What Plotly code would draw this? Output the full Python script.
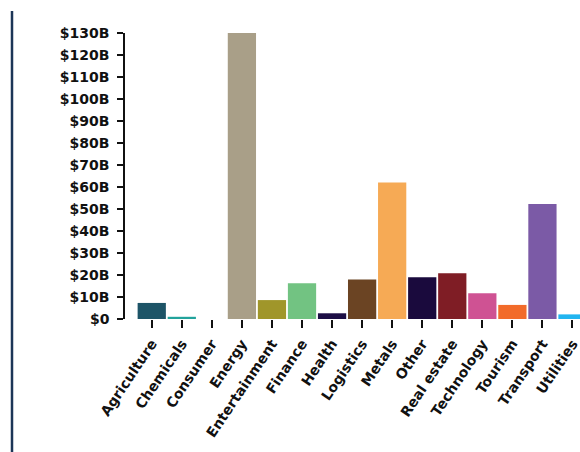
import plotly.graph_objects as go

categories = ["Agriculture", "Chemicals", "Consumer", "Energy", "Entertainment", "Finance",
              "Health", "Logistics", "Metals", "Other", "Real estate", "Technology",
              "Tourism", "Transport", "Utilities"]
values_b = [7.3, 1.0, 0.0, 131.0, 8.6, 16.2, 2.6, 18.0, 62.0, 19.0, 20.8, 11.7, 6.4, 52.3, 2.1]
colors = ["#1d5467", "#22a39c", "#888888", "#a99f88", "#a0962a", "#72c382", "#1c0e45",
          "#6b4423", "#f6aa55", "#1a0a3d", "#7f1d25", "#cf5293", "#f26b2a", "#7b5aa6", "#22b5f0"]
tick_vals = list(range(0, 131, 10))
tick_text = ["$0"] + [f"${v}B" for v in tick_vals[1:]]

W, H = 580, 452
ml, mt, mb = 125, 33, 133
mr = 0
pw = W - ml - mr
ph = H - mt - mb

fig = go.Figure(go.Bar(
    x=categories, y=values_b, marker=dict(color=colors, line=dict(width=0)),
    width=0.94, hoverinfo="x+y", cliponaxis=False))

font = dict(family="DejaVu Sans, sans-serif", size=14, color="#111111", weight="bold")

fig.update_layout(
    width=W, height=H, margin=dict(l=ml, r=mr, t=mt, b=mb),
    paper_bgcolor="white", plot_bgcolor="white", showlegend=False,
    font=font,
    xaxis=dict(type="category", range=[-0.89, 14.25], showline=False, showgrid=False,
               ticks="outside", ticklen=8, tickwidth=2, tickcolor="#111111",
               tickangle=-56, tickfont=font, zeroline=False, ticklabelstandoff=2),
    yaxis=dict(range=[0, 130], tickvals=tick_vals, ticktext=tick_text, showline=True,
               linecolor="#111111", linewidth=1.5, ticks="outside", ticklen=6,
               tickwidth=1.5, tickcolor="#111111", showgrid=False, zeroline=False,
               tickfont=font, ticklabelstandoff=5),
)

# decorative left vertical rule
x_paper = (12 - ml) / pw
fig.add_shape(type="line", xref="paper", yref="paper",
              x0=x_paper, x1=x_paper, y0=(H - mb - H) / ph, y1=(H - mb - 11) / ph,
              line=dict(color="#1c3557", width=2.5))

fig.write_html("out.html")
